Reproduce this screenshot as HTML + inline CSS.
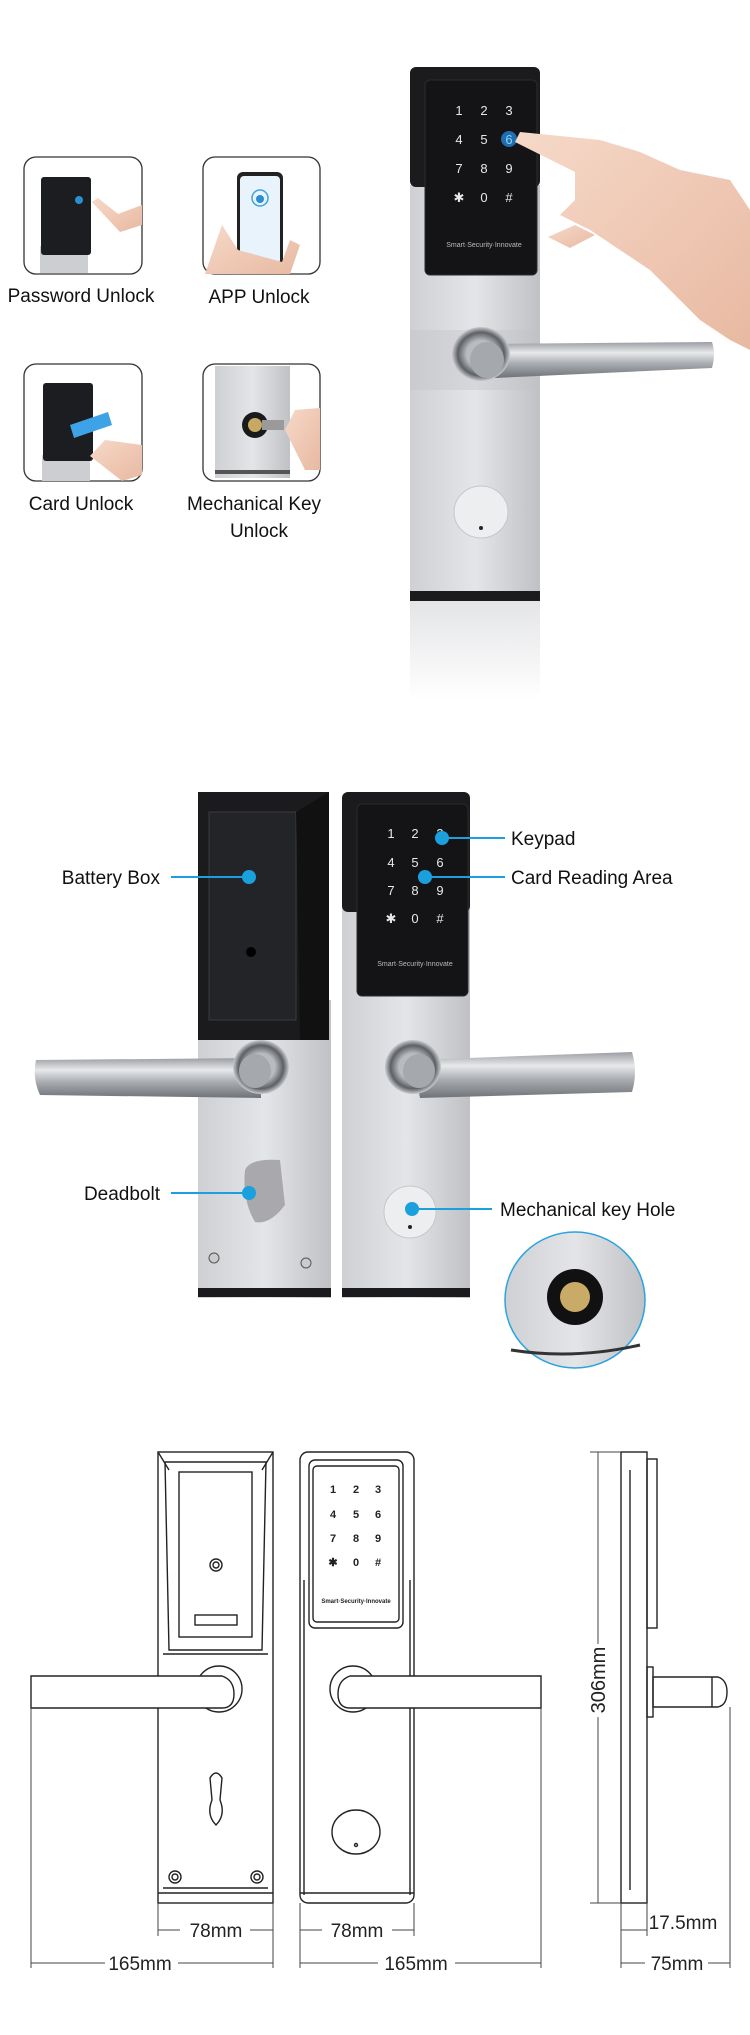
<!DOCTYPE html>
<html><head><meta charset="utf-8"><style>
html,body{margin:0;padding:0;background:#fff;}
svg{display:block;font-family:"Liberation Sans",sans-serif;}
</style></head><body>
<svg width="750" height="2035" viewBox="0 0 750 2035" xmlns="http://www.w3.org/2000/svg">
<defs>
<linearGradient id="steel" x1="0" x2="1" y1="0" y2="0">
<stop offset="0" stop-color="#cfd0d4"/><stop offset="0.5" stop-color="#e4e5e8"/><stop offset="1" stop-color="#bfc1c5"/></linearGradient>
<linearGradient id="lever" x1="0" x2="0" y1="0" y2="1">
<stop offset="0" stop-color="#9a9da2"/><stop offset="0.3" stop-color="#e8e9eb"/><stop offset="0.6" stop-color="#a9acb1"/><stop offset="1" stop-color="#6f7277"/></linearGradient>
<radialGradient id="rose"><stop offset="0.5" stop-color="#b8bbbf"/><stop offset="0.8" stop-color="#5d6065"/><stop offset="1" stop-color="#c9cbce"/></radialGradient>
<linearGradient id="refl" x1="0" x2="0" y1="0" y2="1"><stop offset="0" stop-color="#d8d9dc"/><stop offset="1" stop-color="#fff"/></linearGradient>
<linearGradient id="skin" x1="0" x2="1" y1="0" y2="1"><stop offset="0" stop-color="#f6d9c9"/><stop offset="1" stop-color="#e8b9a1"/></linearGradient>
</defs>

<!-- ===== SECTION 1 ===== -->
<g stroke="#333" stroke-width="1.3" fill="#fff">
<rect x="24" y="157" width="118" height="117" rx="12"/>
<rect x="203" y="157" width="117" height="117" rx="12"/>
<rect x="24" y="364" width="118" height="117" rx="12"/>
<rect x="203" y="364" width="117" height="117" rx="12"/>
</g>
<rect x="40" y="246" width="48" height="27" fill="#ccced2"/>
<rect x="41" y="177" width="50" height="78" rx="3" fill="#1c1d20"/>
<circle cx="79" cy="200" r="4" fill="#2a8fd0"/>
<path d="M142 225 L120 232 L92 202 L98 198 L118 214 L142 205Z" fill="url(#skin)"/>
<rect x="237" y="172" width="46" height="96" rx="6" fill="#222"/>
<rect x="240" y="176" width="40" height="88" rx="4" fill="#e8f3fc"/>
<circle cx="260" cy="198" r="8" fill="none" stroke="#3da2e6" stroke-width="1.5"/>
<circle cx="260" cy="199" r="4" fill="#2a8fd0"/>
<path d="M205 274 L222 225 L238 250 L282 262 L290 240 L300 245 L290 274Z" fill="url(#skin)"/>
<rect x="42" y="455" width="48" height="26" fill="#ccced2"/>
<rect x="43" y="383" width="50" height="78" rx="3" fill="#1c1d20"/>
<path d="M70 425 L108 412 L112 425 L74 438Z" fill="#3da2e6"/>
<path d="M142 475 L122 481 L90 456 L105 440 L142 445Z" fill="url(#skin)"/>
<rect x="215" y="366" width="75" height="112" fill="url(#steel)"/>
<rect x="215" y="470" width="75" height="4" fill="#555"/>
<circle cx="255" cy="425" r="13" fill="#1a1a1a"/>
<circle cx="255" cy="425" r="7" fill="#c7a964"/>
<rect x="262" y="420" width="22" height="10" fill="#9a9a9a"/>
<path d="M320 470 L305 470 L285 430 L295 410 L320 408Z" fill="url(#skin)"/>
<g font-size="19" fill="#111" text-anchor="middle">
<text x="81" y="302">Password Unlock</text>
<text x="259" y="303">APP  Unlock</text>
<text x="81" y="510">Card  Unlock</text>
<text x="254" y="510">Mechanical Key</text>
<text x="259" y="537">Unlock</text>
</g>
<rect x="410" y="601" width="130" height="99" fill="url(#refl)" opacity="0.7"/>
<rect x="410" y="185" width="130" height="410" fill="url(#steel)"/>
<rect x="410" y="591" width="130" height="10" fill="#1b1b1d"/>
<rect x="410" y="67" width="130" height="120" rx="6" fill="#1b1b1d"/>
<rect x="425" y="80" width="112" height="195" rx="5" fill="#141416" stroke="#2a2b2e"/>
<g fill="#e8e8e8" font-size="13" text-anchor="middle">
<text x="459" y="115">1</text><text x="484" y="115">2</text><text x="509" y="115">3</text>
<text x="459" y="144">4</text><text x="484" y="144">5</text>
<text x="459" y="173">7</text><text x="484" y="173">8</text><text x="509" y="173">9</text>
<text x="459" y="202">✱</text><text x="484" y="202">0</text><text x="509" y="202">#</text>
<text x="484" y="247" font-size="7" fill="#bbb">Smart·Security·Innovate</text>
</g>
<circle cx="509" cy="139" r="8" fill="#1f6fb0"/>
<text x="509" y="144" fill="#8fd0ff" font-size="13" text-anchor="middle">6</text>
<path d="M750 210 L730 180 L680 170 L640 152 L600 140 L520 132 L515 142 L575 172 L575 200 L560 215 L590 230 L650 270 L700 320 L730 340 L750 350Z" fill="url(#skin)"/>
<path d="M548 237 L575 225 L595 235 L570 248Z" fill="url(#skin)"/>
<rect x="410" y="330" width="130" height="60" fill="#c2c4c8" opacity="0.4"/>
<path d="M481 344 L712 342 Q716 354 712 368 L495 378Z" fill="url(#lever)"/>
<ellipse cx="481" cy="354" rx="29" ry="27" fill="url(#rose)"/>
<ellipse cx="487" cy="360" rx="17" ry="18" fill="#a5a8ad"/>
<ellipse cx="481" cy="512" rx="27" ry="26" fill="#eceef0" stroke="#c5c7ca"/>
<circle cx="481" cy="528" r="2" fill="#222"/>

<!-- ===== SECTION 2 ===== -->
<rect x="198" y="1000" width="133" height="298" fill="url(#steel)"/>
<rect x="198" y="1288" width="133" height="9" fill="#1b1b1d"/>
<path d="M198 792 L329 792 L329 1040 L198 1040Z" fill="#1b1b1d"/>
<path d="M209 812 L296 812 L296 1020 L209 1020Z" fill="#232427" stroke="#3a3b3f"/>
<path d="M296 812 L329 792 L329 1040 L300 1040Z" fill="#111"/>
<circle cx="251" cy="952" r="5" fill="#000"/>
<circle cx="214" cy="1258" r="5" fill="#ccc" stroke="#555"/>
<circle cx="306" cy="1263" r="5" fill="#ccc" stroke="#555"/>
<rect x="342" y="900" width="128" height="398" fill="url(#steel)"/>
<rect x="342" y="1288" width="128" height="9" fill="#1b1b1d"/>
<rect x="342" y="792" width="128" height="120" rx="6" fill="#1b1b1d"/>
<rect x="357" y="804" width="111" height="192" rx="5" fill="#141416" stroke="#2a2b2e"/>
<g fill="#e8e8e8" font-size="13" text-anchor="middle">
<text x="391" y="838">1</text><text x="415" y="838">2</text><text x="440" y="838">3</text>
<text x="391" y="867">4</text><text x="415" y="867">5</text><text x="440" y="867">6</text>
<text x="391" y="895">7</text><text x="415" y="895">8</text><text x="440" y="895">9</text>
<text x="391" y="923">✱</text><text x="415" y="923">0</text><text x="440" y="923">#</text>
<text x="415" y="966" font-size="7" fill="#bbb">Smart·Security·Innovate</text>
</g>
<path d="M36 1060 L261 1058 L261 1098 L40 1095 Q32 1078 36 1060Z" fill="url(#lever)"/>
<ellipse cx="261" cy="1067" rx="28" ry="27" fill="url(#rose)"/>
<ellipse cx="255" cy="1071" rx="16" ry="17" fill="#a5a8ad"/>
<path d="M413 1060 L632 1052 Q638 1072 632 1092 L420 1098Z" fill="url(#lever)"/>
<ellipse cx="413" cy="1067" rx="28" ry="27" fill="url(#rose)"/>
<ellipse cx="419" cy="1071" rx="16" ry="17" fill="#a5a8ad"/>
<path d="M245 1170 Q250 1158 280 1160 L285 1205 Q270 1225 255 1222 Q242 1200 245 1170Z" fill="#a9a9ad"/>
<ellipse cx="410" cy="1212" rx="26" ry="26" fill="#eceef0" stroke="#c5c7ca"/>
<circle cx="410" cy="1227" r="2" fill="#222"/>
<ellipse cx="575" cy="1300" rx="70" ry="68" fill="url(#steel)" stroke="#2aa3e0" stroke-width="1.5"/>
<circle cx="575" cy="1297" r="28" fill="#111"/>
<circle cx="575" cy="1297" r="15" fill="#c9aa66"/>
<path d="M511 1350 Q575 1360 640 1345" stroke="#333" stroke-width="3" fill="none"/>
<g stroke="#1aa0dc" stroke-width="2">
<line x1="171" y1="877" x2="249" y2="877"/><line x1="442" y1="838" x2="505" y2="838"/>
<line x1="425" y1="877" x2="505" y2="877"/><line x1="171" y1="1193" x2="249" y2="1193"/>
<line x1="412" y1="1209" x2="492" y2="1209"/>
</g>
<g fill="#1aa0dc">
<circle cx="249" cy="877" r="7"/><circle cx="442" cy="838" r="7"/><circle cx="425" cy="877" r="7"/>
<circle cx="249" cy="1193" r="7"/><circle cx="412" cy="1209" r="7"/>
</g>
<g font-size="19" fill="#111">
<text x="160" y="884" text-anchor="end">Battery Box</text>
<text x="511" y="845">Keypad</text>
<text x="511" y="884">Card Reading Area</text>
<text x="160" y="1200" text-anchor="end">Deadbolt</text>
<text x="500" y="1216">Mechanical key Hole</text>
</g>

<!-- ===== SECTION 3 ===== -->
<g fill="none" stroke="#222" stroke-width="1.4">
<rect x="158" y="1452" width="115" height="451"/>
<path d="M165 1462 L266 1462 L262 1650 L169 1650Z"/>
<path d="M158 1452 L169 1470 M273 1452 L262 1470 M163 1654 L268 1654"/>
<rect x="179" y="1472" width="73" height="165"/>
<circle cx="216" cy="1565" r="6"/><circle cx="216" cy="1565" r="3"/>
<rect x="195" y="1615" width="42" height="10"/>
<path d="M158 1893 L273 1893 M163 1888 L268 1888"/>
<path d="M210 1778 Q216 1768 222 1778 L220 1800 Q226 1815 216 1825 Q206 1815 212 1800Z"/>
<circle cx="175" cy="1877" r="6"/><circle cx="175" cy="1877" r="3"/>
<circle cx="257" cy="1877" r="6"/><circle cx="257" cy="1877" r="3"/>
<circle cx="219" cy="1689" r="23" fill="#fff"/>
<path d="M31 1676 L222 1676 Q234 1680 234 1694 Q234 1708 222 1708 L31 1708Z" fill="#fff"/>
<rect x="300" y="1452" width="114" height="451" rx="8"/>
<path d="M304 1580 L304 1895 M410 1580 L410 1895"/>
<rect x="309" y="1460" width="94" height="168" rx="6"/>
<rect x="313" y="1466" width="86" height="156" rx="4"/>
<path d="M300 1893 L414 1893"/>
<ellipse cx="356" cy="1832" rx="24" ry="22"/>
<circle cx="356" cy="1845" r="1.5"/>
<circle cx="353" cy="1689" r="23" fill="#fff"/>
<path d="M541 1676 L350 1676 Q338 1680 338 1694 Q338 1708 350 1708 L541 1708Z" fill="#fff"/>
<rect x="621" y="1452" width="26" height="451"/>
<rect x="647" y="1459" width="10" height="169"/>
<path d="M630 1470 L630 1890"/>
<rect x="647" y="1667" width="6" height="50"/>
<path d="M653 1677 L718 1677 Q727 1680 727 1692 Q727 1705 718 1707 L653 1707Z"/>
<path d="M712 1677 L712 1707"/>
</g>
<g fill="#222" font-size="11" text-anchor="middle" font-weight="bold">
<text x="333" y="1493">1</text><text x="356" y="1493">2</text><text x="378" y="1493">3</text>
<text x="333" y="1518">4</text><text x="356" y="1518">5</text><text x="378" y="1518">6</text>
<text x="333" y="1542">7</text><text x="356" y="1542">8</text><text x="378" y="1542">9</text>
<text x="333" y="1566">✱</text><text x="356" y="1566">0</text><text x="378" y="1566">#</text>
<text x="356" y="1603" font-size="6">Smart·Security·Innovate</text>
</g>
<g stroke="#444" stroke-width="1" fill="none">
<path d="M31 1708 L31 1968 M273 1903 L273 1968 M158 1903 L158 1936"/>
<path d="M300 1903 L300 1968 M541 1708 L541 1968 M414 1903 L414 1936"/>
<path d="M598 1452 L598 1903 M590 1452 L621 1452 M590 1903 L621 1903"/>
<path d="M621 1903 L621 1968 M647 1903 L647 1936 M730 1707 L730 1968"/>
<path d="M158 1930 L180 1930 M250 1930 L273 1930"/>
<path d="M300 1930 L322 1930 M392 1930 L414 1930"/>
<path d="M31 1963 L105 1963 M178 1963 L273 1963"/>
<path d="M300 1963 L378 1963 M455 1963 L541 1963"/>
<path d="M621 1930 L647 1930"/>
<path d="M621 1963 L645 1963 M708 1963 L730 1963"/>
</g>
<g font-size="19" fill="#222" text-anchor="middle">
<text x="216" y="1937">78mm</text>
<text x="357" y="1937">78mm</text>
<text x="140" y="1970">165mm</text>
<text x="416" y="1970">165mm</text>
<text x="683" y="1929">17.5mm</text>
<text x="677" y="1970">75mm</text>
<text transform="translate(598 1680) rotate(-90)" y="7" font-size="20" style="paint-order:stroke" stroke="#fff" stroke-width="8">306mm</text>
</g>
</svg>
</body></html>
